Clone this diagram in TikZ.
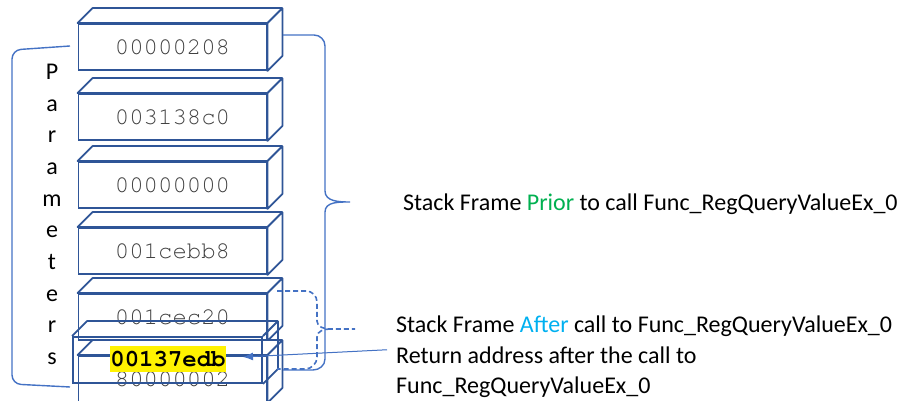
\documentclass[tikz,border=0pt]{standalone}
\usepackage{fontspec}
\setmainfont{Carlito}
\newfontfamily\cellfont{TeX Gyre Cursor}
\usetikzlibrary{arrows.meta,positioning}
\definecolor{boxblue}{HTML}{2F5597}
\definecolor{braceblue}{HTML}{4472C4}
\definecolor{cellgray}{HTML}{404040}
\definecolor{priorgreen}{HTML}{00B050}
\definecolor{afterblue}{HTML}{00B0F0}
\tikzstyle{cell} = [draw=boxblue, line width=1.8pt, fill=white, rectangle, minimum width=188pt, minimum height=46pt, inner sep=0pt, font=\cellfont\fontsize{24}{24}\selectfont, text=cellgray]
\tikzstyle{face} = [draw=boxblue, line width=1.8pt, fill=white, line join=round]
\tikzstyle{brace} = [draw=braceblue, line width=1.4pt]
\tikzstyle{note} = [anchor=base west, inner xsep=9pt, inner ysep=0pt, font=\fontsize{24}{30}\selectfont]

\begin{document}
\begin{tikzpicture}[x=1pt, y=1pt]
	\useasboundingbox (0,0) rectangle (902,401);
	\clip (0,0) rectangle (902,401);
	% stack slots
	\node (b1) [cell] at (172.5,354) {00000208};
	\node (b2) [cell] at (172.5,284) {003138c0};
	\node (b3) [cell] at (172.5,216) {00000000};
	\node (b4) [cell] at (172.5,150) {001cebb8};
	\node (b5) [cell] at (172.5,84) {001cec20};
	\node (b6) [cell] at (172.5,22) {80000002};
	\foreach \n in {b1,b2,b3,b4,b5,b6}
		\filldraw[face] (\n.north west) -- ++(15pt,15pt) -| ([shift={(15pt,15pt)}]\n.south east) -- (\n.south east) -- (\n.north east) -- cycle
			(\n.north east) -- ++(15pt,15pt);
	% pushed return address
	\node (ret) [cell, fill=none, minimum width=189pt] at (167.5,41) {};
	\draw[face, fill=none] (ret.north west) -- ++(15pt,15pt) -| ([shift={(15pt,15pt)}]ret.south east) -- (ret.south east)
		(ret.north east) -- ++(15pt,15pt);
	\node (retval) [fill=yellow, inner sep=0pt, minimum width=116pt, minimum height=26pt, font=\cellfont\bfseries\fontsize{24}{24}\selectfont] at (168,42) {00137edb};
	% parameters bracket
	\node (params) [align=center, inner sep=0pt, anchor=north, font=\fontsize{24}{31.67}\selectfont] at (52,337) {P\\a\\r\\a\\m\\e\\t\\e\\r\\s};
	\draw[brace, rounded corners=9pt] (70,355) -- (12,351) -- (12,17) -- (70,14);
	% frame braces
	\draw[brace] (283,366) -- (314,366) to[out=0,in=90] (325,355) -- (325,210) to[out=-90,in=180] (350,199)
		to[out=180,in=90] (325,189) -- (325,42) to[out=-90,in=0] (313,31) -- (283,31);
	\draw[brace, line width=1.6pt, dash pattern=on 5pt off 3pt] (277,110) -- (306,110) to[out=0,in=90] (317,99) -- (317,80) to[out=-90,in=180] (330,72) -- (355,72)
		(330,72) to[out=180,in=90] (317,64) -- (317,44) to[out=-90,in=0] (305,32) -- (277,32);
	% notes
	\node (prior) [note] at (394,190) {Stack Frame \textcolor{priorgreen}{Prior} to call Func\_RegQueryValueEx\_0};
	\node (retnote) [note] at (387,37) {Return address after the call to};
	\node (after) [note] at ([yshift=31pt]retnote.base west) {Stack Frame \textcolor{afterblue}{After} call to Func\_RegQueryValueEx\_0};
	\node (func) [note] at ([yshift=-30pt]retnote.base west) {Func\_RegQueryValueEx\_0};
	\coordinate (tip) at (243,44);
	\draw[-{Latex[length=10pt,width=8pt]}, draw=braceblue, fill=braceblue, line width=1pt] ([yshift=6pt]retnote.west) -- (tip);
\end{tikzpicture}
\end{document}
